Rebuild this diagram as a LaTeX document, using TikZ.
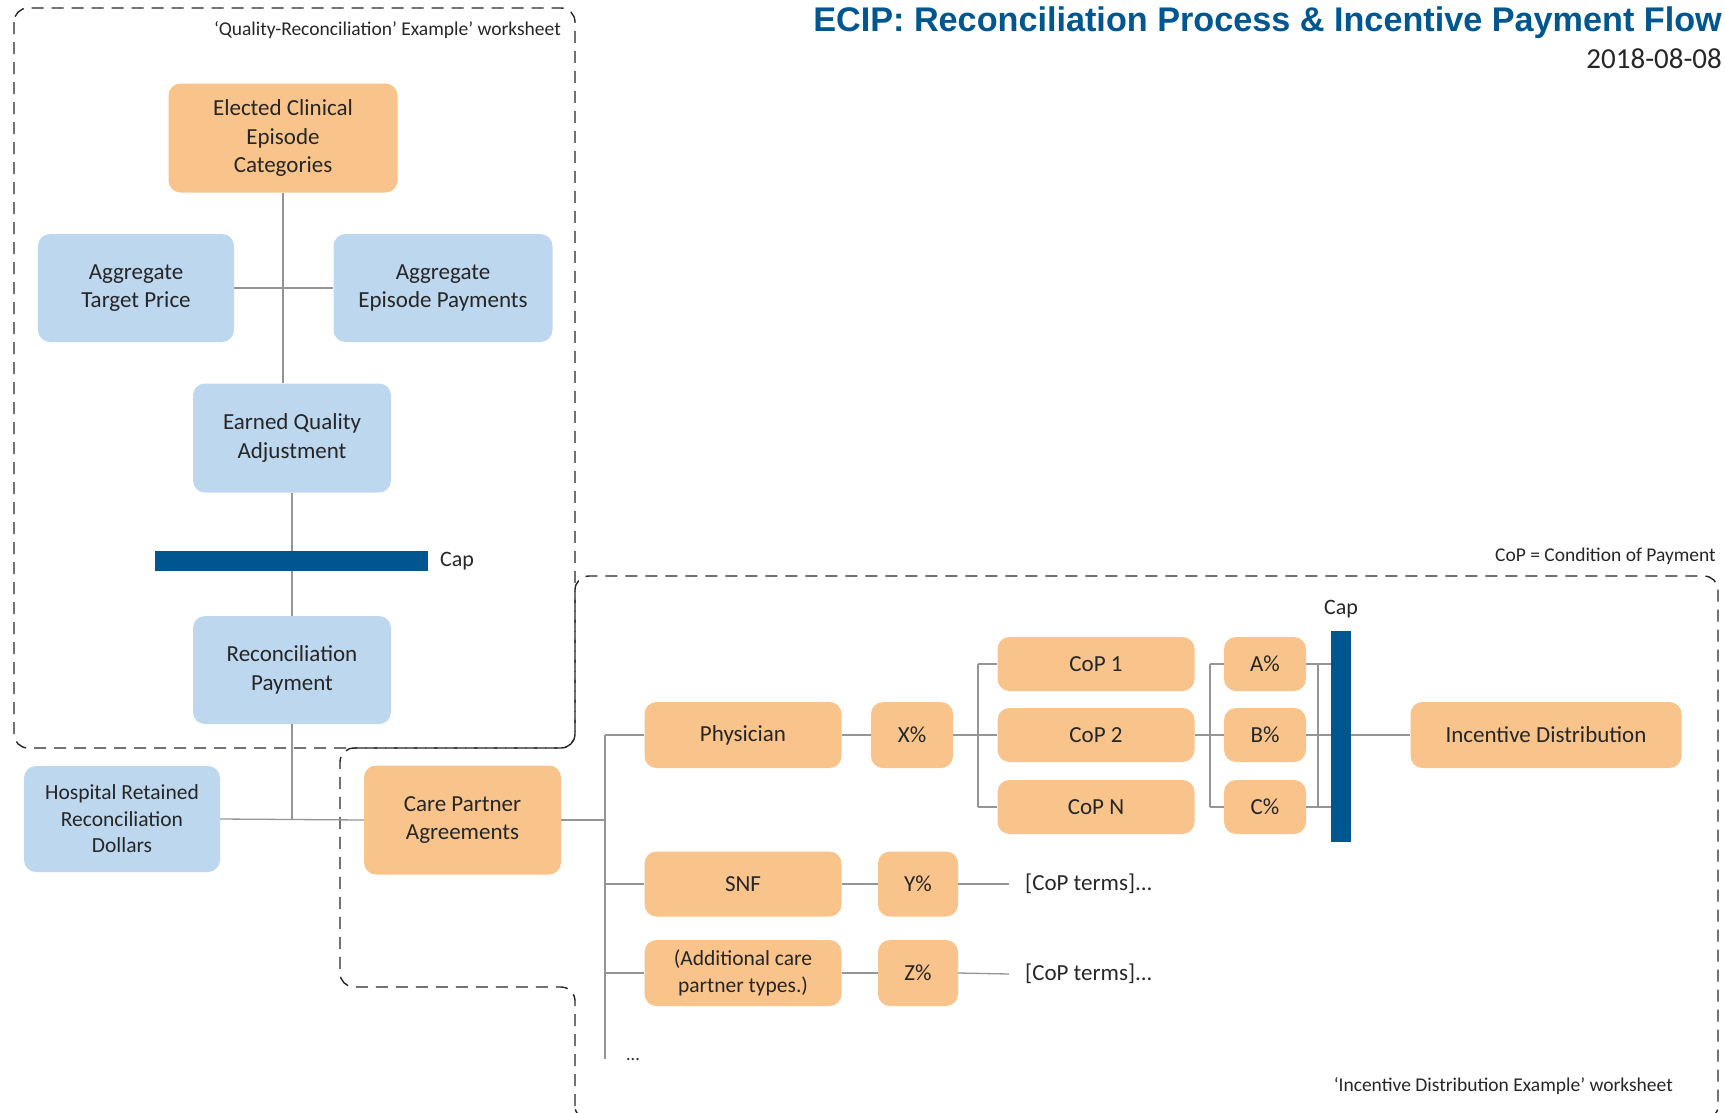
\documentclass[tikz,border=0pt]{standalone}
\usepackage{fontspec}
\setmainfont{Carlito}
\newfontfamily\headfont{Liberation Sans}
\usetikzlibrary{calc}
\definecolor{cporange}{HTML}{F8C48B}
\definecolor{cpblue}{HTML}{BDD7EE}
\definecolor{capblue}{HTML}{00568F}
\definecolor{linkgray}{HTML}{959595}
\definecolor{inkgray}{HTML}{262626}
\definecolor{dashgray}{HTML}{262626}
\begin{document}
\begin{tikzpicture}[x=1pt,y=-1pt,
    orangebox/.style={fill=cporange,rounded corners=12pt,align=center,inner sep=0pt,text=inkgray,font=\fontsize{23}{28.5}\selectfont},
    bluebox/.style={fill=cpblue,rounded corners=12pt,align=center,inner sep=0pt,text=inkgray,font=\fontsize{23}{28.5}\selectfont},
    capbar/.style={fill=capblue,inner sep=0pt},
    note/.style={inner sep=0pt,text=inkgray,font=\fontsize{19.5}{23}\selectfont},
    link/.style={draw=linkgray,line width=1.3pt},
    sheet/.style={draw=dashgray,dash pattern=on 12pt off 8pt,line width=1.4pt,rounded corners=14pt}]
    \useasboundingbox (0,0) rectangle (1725,1112);
    \draw[sheet] (14,8) rectangle (575,748);
    \draw[sheet] (575,1120) -- (575,987) -- (340,987) -- (340,748) -- (575,748)
        -- (575,576) -- (1718,576) -- (1718,1120) -- cycle;
    \node[inner sep=0pt,anchor=base east,text=capblue,font=\headfont\bfseries\fontsize{34.2}{37}\selectfont] (title) at (1722,31) {ECIP: Reconciliation Process \& Incentive Payment Flow};
    \node[inner sep=0pt,anchor=base east,text=inkgray,font=\fontsize{29}{32}\selectfont] (date) at (1722,68) {2018-08-08};
    \node[note,anchor=east] (sheetQ) at (561,30) {‘Quality-Reconciliation’ Example’ worksheet};
    \node[note,anchor=east] (copnote) at (1716,556) {CoP = Condition of Payment};
    \node[note,anchor=east] (sheetI) at (1673,1086) {‘Incentive Distribution Example’ worksheet};
    \node[orangebox,minimum width=229pt,minimum height=109pt] (elected) at (283,138) {Elected Clinical\\Episode\\Categories};
    \node[bluebox,minimum width=196pt,minimum height=108pt] (target) at (136,288) {Aggregate\\Target Price};
    \node[bluebox,minimum width=219pt,minimum height=108pt] (episode) at (443,288) {Aggregate\\Episode Payments};
    \node[bluebox,minimum width=198pt,minimum height=109pt] (earned) at (292,438) {Earned Quality\\Adjustment};
    \node[capbar,minimum width=273pt,minimum height=20pt] (capL) at (291.5,561) {};
    \node[inner sep=0pt,anchor=west,text=inkgray,font=\fontsize{22}{26}\selectfont] (capLtext) at (440,561) {Cap};
    \node[bluebox,minimum width=198pt,minimum height=108pt] (recon) at (292,670) {Reconciliation\\Payment};
    \node[bluebox,minimum width=196pt,minimum height=106pt,font=\fontsize{21.5}{26.4}\selectfont] (hospital) at (122,819) {Hospital Retained\\Reconciliation\\Dollars};
    \node[orangebox,minimum width=197pt,minimum height=109pt] (care) at (462.5,820) {Care Partner\\Agreements};
    \node[orangebox,minimum width=197pt,minimum height=66pt] (physician) at (743,735) {Physician};
    \node[orangebox,minimum width=82pt,minimum height=66pt] (xpct) at (912,735) {X\%};
    \node[orangebox,minimum width=197pt,minimum height=54pt] (cop1) at (1096,664) {CoP 1};
    \node[orangebox,minimum width=197pt,minimum height=54pt] (cop2) at (1096,735) {CoP 2};
    \node[orangebox,minimum width=197pt,minimum height=54pt] (copn) at (1096,807) {CoP N};
    \node[orangebox,minimum width=82pt,minimum height=54pt] (apct) at (1265,664) {A\%};
    \node[orangebox,minimum width=82pt,minimum height=54pt] (bpct) at (1265,735) {B\%};
    \node[orangebox,minimum width=82pt,minimum height=54pt] (cpct) at (1265,807) {C\%};
    \node[capbar,minimum width=20pt,minimum height=211pt] (capR) at (1341,736.5) {};
    \node[inner sep=0pt,text=inkgray,font=\fontsize{22}{26}\selectfont] (capRtext) at (1341,609) {Cap};
    \node[orangebox,minimum width=271pt,minimum height=66pt] (incentive) at (1546,735) {Incentive Distribution};
    \node[orangebox,minimum width=197pt,minimum height=65pt] (snf) at (743,884) {SNF};
    \node[orangebox,minimum width=80pt,minimum height=65pt] (ypct) at (918,884) {Y\%};
    \node[inner sep=0pt,anchor=west,text=inkgray,font=\fontsize{23}{28}\selectfont] (terms1) at (1025,884) {[CoP terms]...};
    \node[orangebox,minimum width=197pt,minimum height=66pt,font=\fontsize{21.5}{26.4}\selectfont] (addl) at (743,973) {(Additional care\\partner types.)};
    \node[orangebox,minimum width=80pt,minimum height=66pt] (zpct) at (918,973) {Z\%};
    \node[inner sep=0pt,anchor=west,text=inkgray,font=\fontsize{23}{28}\selectfont] (terms2) at (1025,974) {[CoP terms]...};
    \node[inner sep=0pt,text=inkgray,font=\fontsize{18}{20}\selectfont] (dots) at (633,1060) {...};
    \coordinate (bustop) at (605,735);
    \coordinate (busend) at (605,1059);
    \coordinate (xfork) at (978,735);
    \coordinate (afork) at (1210,735);
    \coordinate (capfork) at (1318,735);
    \draw[link] (elected.south) -- (elected.south |- earned.north);
    \draw[link] (target.east) -- (episode.west);
    \draw[link] (earned.south) -- (capL.north -| earned.south);
    \draw[link] (capL.south -| recon.north) -- (recon.north);
    \draw[link] (recon.south) -- (recon.south |- care.west);
    \draw[link] (hospital.east) -- (care.west);
    \draw[link] (care.east) -- (care.east -| bustop);
    \draw[link] (bustop) -- (busend);
    \draw[link] (bustop) -- (physician.west);
    \draw[link] (bustop |- snf.west) -- (snf.west);
    \draw[link] (bustop |- addl.west) -- (addl.west);
    \draw[link] (physician.east) -- (xpct.west);
    \draw[link] (xpct.east) -- (xfork);
    \draw[link] (xfork |- cop1.west) -- (xfork |- copn.west);
    \draw[link] (xfork |- cop1.west) -- (cop1.west);
    \draw[link] (xfork) -- (cop2.west);
    \draw[link] (xfork |- copn.west) -- (copn.west);
    \draw[link] (cop2.east) -- (bpct.west);
    \draw[link] (afork |- apct.west) -- (afork |- cpct.west);
    \draw[link] (afork |- apct.west) -- (apct.west);
    \draw[link] (afork |- cpct.west) -- (cpct.west);
    \draw[link] (capfork |- apct.east) -- (capfork |- cpct.east);
    \draw[link] (apct.east) -- (apct.east -| capR.west);
    \draw[link] (bpct.east) -- (bpct.east -| capR.west);
    \draw[link] (cpct.east) -- (cpct.east -| capR.west);
    \draw[link] (capR.east |- incentive.west) -- (incentive.west);
    \draw[link] (snf.east) -- (ypct.west);
    \draw[link] (ypct.east) -- ([xshift=-16pt]terms1.west);
    \draw[link] (addl.east) -- (zpct.west);
    \draw[link] (zpct.east) -- ([xshift=-16pt]terms2.west);
\end{tikzpicture}
\end{document}
